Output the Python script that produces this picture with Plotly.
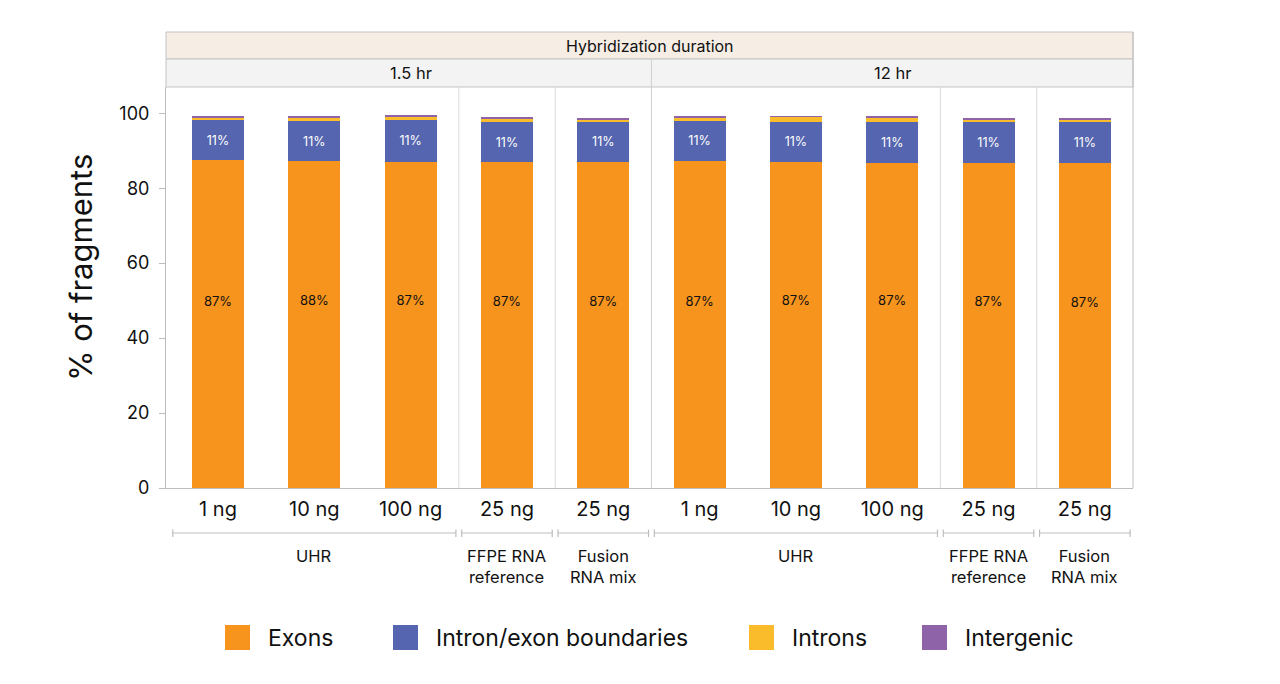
import plotly.graph_objects as go

# ---------------- data ----------------
durations = ["1.5 hr", "12 hr"]
amounts = ["1 ng", "10 ng", "100 ng", "25 ng", "25 ng",
           "1 ng", "10 ng", "100 ng", "25 ng", "25 ng"]
sample_groups = ["UHR", "FFPE RNA<br>reference", "Fusion<br>RNA mix"]
group_sizes = [3, 1, 1]

exons = [87.5, 87.2, 86.9, 87.0, 87.0, 87.3, 87.0, 86.6, 86.6, 86.8]
boundaries = [10.7, 10.7, 11.4, 10.6, 10.7, 10.6, 10.7, 11.1, 11.0, 11.0]
introns = [0.6, 1.0, 0.7, 0.9, 0.7, 0.9, 1.3, 1.2, 0.8, 0.5]
intergenic = [0.3, 0.3, 0.3, 0.25, 0.25, 0.3, 0.2, 0.3, 0.25, 0.25]

exon_labels = ["87%", "88%", "87%", "87%", "87%", "87%", "87%", "87%", "87%", "87%"]
boundary_labels = ["11%"] * 10

series_names = ["Exons", "Intron/exon boundaries", "Introns", "Intergenic"]
series_colors = ["#F7941D", "#5565AF", "#FBBC2C", "#8E63A8"]

# ---------------- layout geometry ----------------
W, H = 1280, 684
L, R, T, B = 166, 147, 87, 196
PW, PH = W - L - R, H - T - B
Y0PIX = H - B


def py(p):  # pixel y -> paper y
    return (Y0PIX - p) / PH


def px(p):  # pixel x -> paper x
    return (p - L) / PW


FONT = "Inter, Roboto, Noto Sans, sans-serif"
GRID = "#DADADA"
AXIS = "#BDBDBD"

x = list(range(len(amounts)))
totals = [a + b + c + d for a, b, c, d in zip(exons, boundaries, introns, intergenic)]

fig = go.Figure()
all_series = [exons, boundaries, introns, intergenic]
for i, (name, vals, col) in enumerate(zip(series_names, all_series, series_colors)):
    if i == 1:
        kw = dict(text=boundary_labels, textposition="inside", insidetextanchor="middle",
                  textfont=dict(color="white", size=12.5, family=FONT), textangle=0)
    else:
        kw = dict(textposition="none")
    fig.add_trace(go.Bar(x=x, y=vals, name=name, marker=dict(color=col, line=dict(width=0)),
                         width=0.54, showlegend=False, hoverinfo="name+y", **kw))

# exon labels (centered on the stacked bar)
fig.add_trace(go.Scatter(x=x, y=[t / 2 for t in totals], mode="text", text=exon_labels,
                         textfont=dict(color="#111111", size=13, family=FONT),
                         showlegend=False, hoverinfo="skip"))

shapes = []
annotations = []

# strips
shapes.append(dict(type="rect", xref="paper", yref="paper", x0=0, x1=1, y0=py(59), y1=py(32),
                   fillcolor="#F6EDE4", line=dict(color="#C4C4C4", width=1), layer="below"))
shapes.append(dict(type="rect", xref="paper", yref="paper", x0=0, x1=1, y0=1, y1=py(59),
                   fillcolor="#F3F3F3", line=dict(color="#C4C4C4", width=1), layer="below"))
annotations.append(dict(text="Hybridization duration", xref="paper", yref="paper", x=0.5,
                        y=(py(59) + py(32)) / 2, showarrow=False, yanchor="middle",
                        font=dict(size=16, color="#111111", family=FONT)))
n_per = len(amounts) // len(durations)
for k, d in enumerate(durations):
    annotations.append(dict(text=d, xref="x", yref="paper", x=k * n_per + (n_per - 1) / 2,
                            y=(1 + py(59)) / 2, showarrow=False, yanchor="middle",
                            font=dict(size=16.5, color="#111111", family=FONT)))

# panel divider
for k in range(1, len(durations)):
    shapes.append(dict(type="line", xref="x", yref="paper", x0=k * n_per - 0.5, x1=k * n_per - 0.5,
                       y0=0, y1=py(59), line=dict(color="#D0D0D0", width=1)))
# right border
shapes.append(dict(type="line", xref="paper", yref="paper", x0=1, x1=1, y0=0, y1=py(32),
                   line=dict(color=AXIS, width=1)))

# group separators + brackets + group labels
GFS = 16.5
for k in range(len(durations)):
    start = k * n_per
    for gi, (gname, gs) in enumerate(zip(sample_groups, group_sizes)):
        s, e = start, start + gs - 1
        if gi > 0:
            shapes.append(dict(type="line", xref="x", yref="paper", x0=s - 0.5, x1=s - 0.5,
                               y0=0, y1=1, line=dict(color=GRID, width=1)))
        x0b, x1b = s - 0.47, e + 0.47
        yb = py(533)
        shapes.append(dict(type="line", xref="x", yref="paper", x0=x0b, x1=x1b, y0=yb, y1=yb,
                           line=dict(color="#BDBDBD", width=1.2)))
        for xb in (x0b, x1b):
            shapes.append(dict(type="line", xref="x", yref="paper", x0=xb, x1=xb,
                               y0=py(529.5), y1=py(537), line=dict(color="#BDBDBD", width=1.2)))
        nl = len(gname.split("<br>"))
        annotations.append(dict(text=gname, xref="x", yref="paper", x=(s + e) / 2,
                                y=py(556 + (nl - 1) * GFS * 1.3 / 2), yanchor="middle",
                                showarrow=False, align="center",
                                font=dict(size=GFS, color="#111111", family=FONT)))
        start += gs

# y-axis title
annotations.append(dict(text="% of fragments", xref="paper", yref="paper", x=px(80), y=py(268),
                        textangle=-90, showarrow=False, xanchor="center", yanchor="middle",
                        font=dict(size=31, color="#111111", family=FONT)))

# manual legend
legend_x = [225, 393, 749, 922]
for name, col, lx in zip(series_names, series_colors, legend_x):
    shapes.append(dict(type="rect", xref="paper", yref="paper", x0=px(lx), x1=px(lx + 25),
                       y0=py(650), y1=py(625), fillcolor=col, line=dict(width=0)))
    annotations.append(dict(text=name, xref="paper", yref="paper", x=px(lx + 41), y=py(637.5),
                            xanchor="left", yanchor="middle", showarrow=False,
                            font=dict(size=23, color="#111111", family=FONT)))

fig.update_layout(
    barmode="stack",
    width=W, height=H,
    margin=dict(l=L, r=R, t=T, b=B, pad=0),
    plot_bgcolor="white", paper_bgcolor="white",
    font=dict(family=FONT, color="#111111"),
    shapes=shapes, annotations=annotations,
    showlegend=False,
    xaxis=dict(range=[-0.54, 9.5], tickmode="array", tickvals=x, ticktext=amounts,
               tickfont=dict(size=20, color="#111111"), showgrid=False, zeroline=False,
               showline=True, linecolor=AXIS, linewidth=1, ticks="outside", ticklen=3,
               tickcolor="rgba(0,0,0,0)", fixedrange=True),
    yaxis=dict(range=[0, 107], tickmode="array", tickvals=[0, 20, 40, 60, 80, 100],
               tickfont=dict(size=18, color="#111111"), showgrid=False, zeroline=False,
               showline=True, linecolor=AXIS, linewidth=1, ticks="outside", ticklen=6,
               tickcolor=AXIS, ticklabelstandoff=6, fixedrange=True),
    bargap=0.46,
)

fig.write_html("out.html")
